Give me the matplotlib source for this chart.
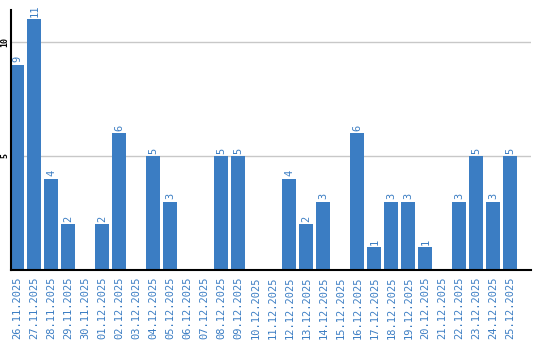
import matplotlib
matplotlib.use("Agg")
from matplotlib import pyplot as plt
import numpy as np

dates = ["26.11.2025", "27.11.2025", "28.11.2025", "29.11.2025", "30.11.2025",
         "01.12.2025", "02.12.2025", "03.12.2025", "04.12.2025", "05.12.2025",
         "06.12.2025", "07.12.2025", "08.12.2025", "09.12.2025", "10.12.2025",
         "11.12.2025", "12.12.2025", "13.12.2025", "14.12.2025", "15.12.2025",
         "16.12.2025", "17.12.2025", "18.12.2025", "19.12.2025", "20.12.2025",
         "21.12.2025", "22.12.2025", "23.12.2025", "24.12.2025", "25.12.2025"]
counts = [9, 11, 4, 2, 0, 2, 6, 0, 5, 3, 0, 0, 5, 5, 0,
          0, 4, 2, 3, 0, 6, 1, 3, 3, 1, 0, 3, 5, 3, 5]
yticks = [5, 10]

blue = "#3b7dc3"
mono = "DejaVu Sans Mono"

fig = plt.figure(figsize=(5.4, 3.4), dpi=100)
ax = fig.add_axes([10.5 / 540, 70 / 340, 520.5 / 540, 260 / 340])

x = np.arange(len(dates))
bw = 14 / 17
ax.bar(x, counts, width=bw, align="edge", color=blue, zorder=2)

for xi, c in zip(x, counts):
    if c > 0:
        ax.text(xi + bw / 2, c + 0.1, str(c), rotation=90, ha="center", va="bottom",
                color=blue, fontsize=7.5, family=mono)

ax.set_xlim(0, 30.62)
ax.set_ylim(0, 11.4)
ax.set_yticks(yticks)
ax.set_yticklabels([str(t) for t in yticks], rotation=90, va="center",
                   fontsize=6, fontweight="bold", family=mono)
ax.grid(axis="y", color="#c8c8c8", linewidth=1, zorder=0)
ax.tick_params(axis="y", length=0, pad=1)

ax.set_xticks(x + bw / 2)
ax.set_xticklabels(dates, rotation=90, color=blue, fontsize=7.5, family=mono,
                   va="top", ha="center")
ax.tick_params(axis="x", length=0, pad=5)

for s in ["top", "right"]:
    ax.spines[s].set_visible(False)
ax.spines["left"].set_linewidth(1.5)
ax.spines["bottom"].set_linewidth(1.5)

fig.savefig("out.png", dpi=100)
